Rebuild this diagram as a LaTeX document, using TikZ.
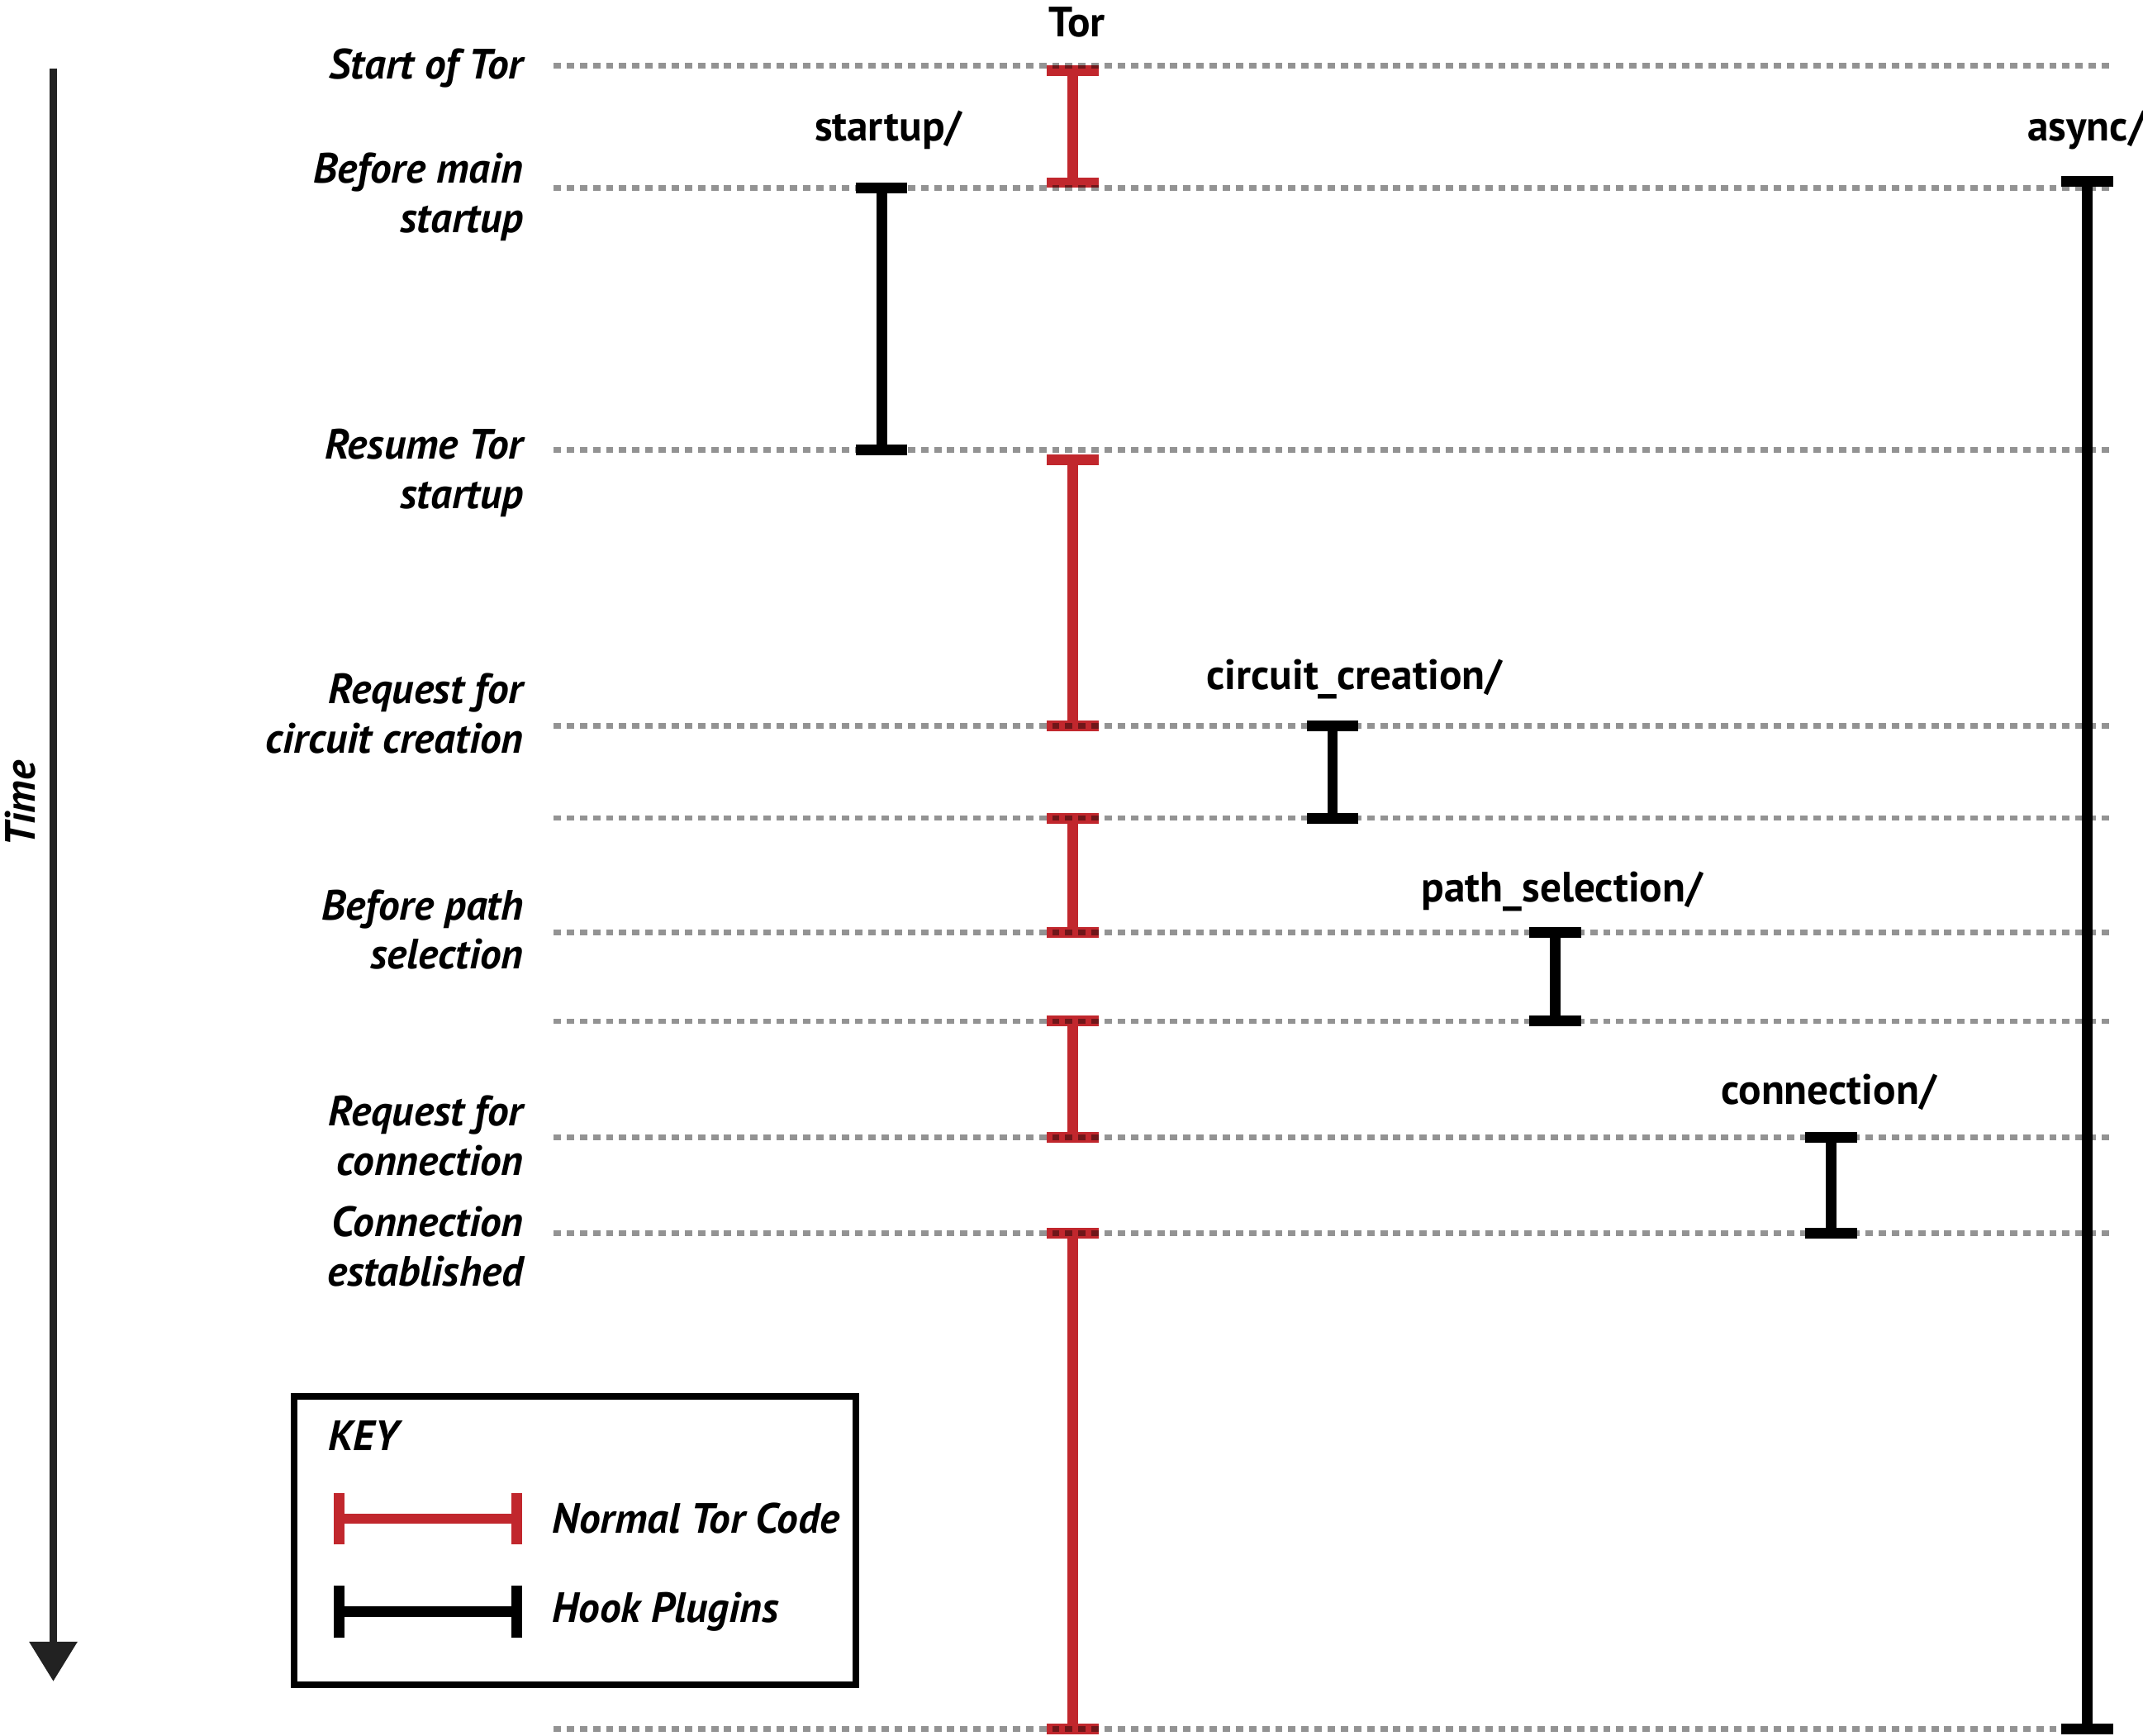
\documentclass[tikz,border=0pt]{standalone}
\usepackage{fontspec}
\setmainfont{PT Sans}
\usepackage{tikz}
\usetikzlibrary{positioning, arrows.meta, calc}
\definecolor{torred}{HTML}{C1272D}
\definecolor{guidegray}{HTML}{939393}
\definecolor{timegray}{HTML}{222222}

\begin{document}
\begin{tikzpicture}[x=1pt, y=-1pt,
    event/.style={font=\fontsize{31}{36}\selectfont\bfseries\itshape, align=right, anchor=east, inner sep=0pt},
    hook/.style={font=\fontsize{31}{34}\selectfont\bfseries, inner sep=0pt},
    guide/.style={guidegray, line width=4pt, dash pattern=on 5.4pt off 4.2pt},
    torbar/.style={torred, line width=7.8pt, {Bar[width=38pt]}-{Bar[width=38pt]}},
    hookbar/.style={black, line width=7.8pt, {Bar[width=38pt]}-{Bar[width=38pt]}},
    online/.style={shorten <=-3.9pt, shorten >=-3.9pt}
]
    \useasboundingbox (0,0) rectangle (1568,1269.4);

    \node[hook] (tor) at (788,16) {Tor};
    \node[hook] (startup) at (650,95) {startup/};
    \node[hook, anchor=east] (async) at (1570,95) {async/};
    \node[hook] (circuit) at (991,497) {circuit\_creation/};
    \node[hook] (path) at (1143,652) {path\_selection/};
    \node[hook] (conn) at (1338,799) {connection/};

    \coordinate (torx) at (785,0);
    \coordinate (startupx) at (645,0);
    \coordinate (asyncx) at (1527,0);
    \coordinate (circuitx) at (975,0);
    \coordinate (pathx) at (1138,0);
    \coordinate (connx) at (1340,0);

    \node[event] (start) at (383,50) {Start of Tor};
    \node[event] (beforemain) at (383,144) {Before main\\startup};
    \node[event] (resume) at (383,346) {Resume Tor\\startup};
    \node[event] (reqcirc) at (383,522) {Request for\\circuit creation};
    \node[event] (beforepath) at (383,680) {Before path\\selection};
    \node[event] (reqconn) at (383,831) {Request for\\connection};
    \node[event] (established) at (383,912) {Connection\\established};

    \coordinate (t0) at (39,50);
    \coordinate (t1) at (39,1230);
    \draw[timegray, line width=5.4pt, -{Triangle[width=34pt, length=29pt]}] (t0) -- (t1);
    \node[event, anchor=center, rotate=90] (time) at (15,588) {Time};

    \foreach \y [count=\i from 0] in {48,137.5,329,531,598.5,682,747,832,902,1265}
        \coordinate (g\i) at (405,\y);

    \draw[torbar] (torx |- g0) -- (torx |- g1);
    \draw[torbar, shorten <=3.6pt, shorten >=-3.9pt] (torx |- g2) -- (torx |- g3);
    \draw[torbar, online] (torx |- g4) -- (torx |- g5);
    \draw[torbar, online] (torx |- g6) -- (torx |- g7);
    \draw[torbar, online] (torx |- g8) -- (torx |- g9);

    \draw[hookbar, online] (startupx |- g1) -- (startupx |- g2);
    \draw[hookbar, online] (circuitx |- g3) -- (circuitx |- g4);
    \draw[hookbar, online] (pathx |- g5) -- (pathx |- g6);
    \draw[hookbar, online] (connx |- g7) -- (connx |- g8);
    \draw[hookbar, shorten <=-8.9pt, shorten >=-3.9pt] (asyncx |- g1) -- (asyncx |- g9);

    \begin{scope}[blend mode=multiply]
    \foreach \i in {0,...,9}
        \draw[guide] (g\i) -- (1545,0 |- g\i);
    \end{scope}

    \node[draw, line width=4.8pt, minimum width=411pt, minimum height=211pt, anchor=north west, inner sep=0pt] (key) at (213,1019) {};
    \node[event, anchor=west] (keytitle) at (240,1050) {KEY};
    \coordinate (k1a) at (248,1111);
    \coordinate[right=130pt of k1a] (k1b);
    \coordinate (k2a) at (248,1179);
    \coordinate[right=130pt of k2a] (k2b);
    \draw[torbar, online] (k1a) -- (k1b);
    \draw[hookbar, online] (k2a) -- (k2b);
    \node[event, right=26pt of k1b] (normal) {Normal Tor Code};
    \node[event, right=26pt of k2b] (plugins) {Hook Plugins};
\end{tikzpicture}
\end{document}
